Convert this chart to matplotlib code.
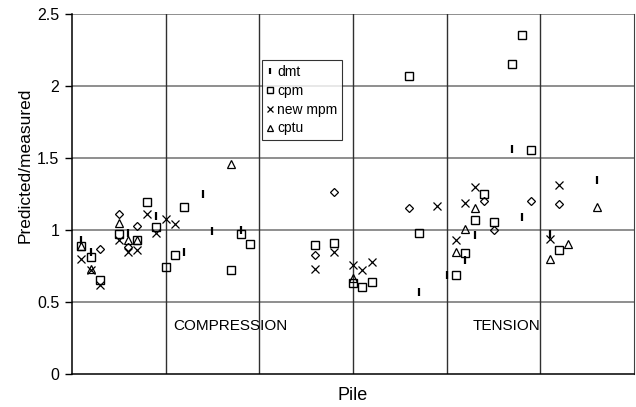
import numpy as np
import matplotlib
matplotlib.use("Agg")
import matplotlib.pyplot as plt

plt.rcParams['font.family'] = ['Liberation Sans', 'DejaVu Sans']

# pile number (category position) and predicted/measured ratio per method
dmt_x = [1, 2, 6, 9, 12, 14, 15, 18, 37, 40, 42, 43, 47, 48, 51, 56]
dmt_y = [0.93, 0.85, 0.98, 1.10, 0.845, 1.25, 0.99, 1.00, 0.57, 0.69, 0.79, 0.965, 1.56, 1.09, 0.97, 1.35]

cpm_x = [1, 2, 3, 5, 7, 8, 9, 10, 11, 12, 17, 18, 19, 26, 28, 30, 31, 32,
         36, 37, 41, 42, 43, 44, 45, 47, 48, 49, 52]
cpm_y = [0.89, 0.815, 0.65, 0.975, 0.93, 1.197, 1.02, 0.745, 0.826, 1.158, 0.72, 0.975, 0.90,
         0.896, 0.907, 0.63, 0.605, 0.64, 2.067, 0.98, 0.69, 0.84, 1.07, 1.25, 1.053,
         2.153, 2.35, 1.556, 0.86]

mpm_x = [1, 2, 3, 5, 6, 7, 8, 9, 10, 11, 26, 28, 30, 31, 32, 39, 41, 42, 43, 51, 52]
mpm_y = [0.80, 0.72, 0.62, 0.93, 0.85, 0.86, 1.11, 0.977, 1.074, 1.04, 0.727, 0.85, 0.757,
         0.72, 0.78, 1.167, 0.93, 1.185, 1.30, 0.94, 1.31]

cptu_x = [1, 2, 5, 6, 7, 17, 30, 41, 42, 43, 51, 53, 56]
cptu_y = [0.89, 0.73, 1.046, 0.93, 0.93, 1.458, 0.67, 0.85, 1.01, 1.15, 0.80, 0.90, 1.158]

other_x = [3, 5, 6, 7, 26, 28, 36, 44, 45, 49, 52]
other_y = [0.866, 1.11, 0.88, 1.03, 0.826, 1.26, 1.15, 1.20, 1.00, 1.20, 1.18]

fig = plt.figure(figsize=(6.36, 4.07), dpi=100)
ax = fig.add_axes([0.113, 0.081, 0.884, 0.885])

ax.plot(dmt_x, dmt_y, ls='none', marker='|', ms=6, mew=1.6, color='black', label='dmt')
ax.plot(cpm_x, cpm_y, ls='none', marker='s', ms=6, mfc='none', mec='black', mew=1, label='cpm')
ax.plot(mpm_x, mpm_y, ls='none', marker='x', ms=6, mec='black', mew=0.9, label='new mpm')
ax.plot(cptu_x, cptu_y, ls='none', marker='^', ms=6, mfc='none', mec='black', mew=0.9, label='cptu')
ax.plot(other_x, other_y, ls='none', marker='D', ms=4.5, mfc='none', mec='black', mew=0.9)

ax.set_xlim(0, 60)
ax.set_ylim(0, 2.5)
ax.set_yticks([0, 0.5, 1, 1.5, 2, 2.5])
ax.set_yticklabels(['0', '0.5', '1', '1.5', '2', '2.5'], fontsize=11.5)
ax.set_xticks([])

for yv in [0.5, 1, 1.5, 2, 2.5]:
    ax.axhline(yv, color='#707070', lw=1.1, zorder=0)
for xv in [10, 20, 30, 40, 50]:
    ax.axvline(xv, color='#303030', lw=1, zorder=0)

ax.spines['top'].set_visible(False)
ax.spines['right'].set_color('#404040')
ax.spines['left'].set_linewidth(1.1)
ax.spines['bottom'].set_linewidth(1.1)
ax.tick_params(axis='y', direction='out', length=5, width=1, pad=4)

ax.text(16.9, 0.335, 'COMPRESSION', fontsize=11, ha='center', va='center')
ax.text(46.4, 0.335, 'TENSION', fontsize=11, ha='center', va='center')

ax.set_ylabel('Predicted/measured', fontsize=12.5)
ax.yaxis.set_label_coords(-0.069, 0.58)
ax.set_xlabel('Pile', fontsize=13, labelpad=9)

leg = ax.legend(loc='upper left', bbox_to_anchor=(0.338, 0.872), borderaxespad=0,
                frameon=True, fancybox=False, edgecolor='black', borderpad=0.35,
                handlelength=0.5, handletextpad=0.25, labelspacing=0.35, markerscale=0.75,
                prop={'size': 10})
leg.get_frame().set_linewidth(0.8)

fig.savefig('out.png', dpi=100)
